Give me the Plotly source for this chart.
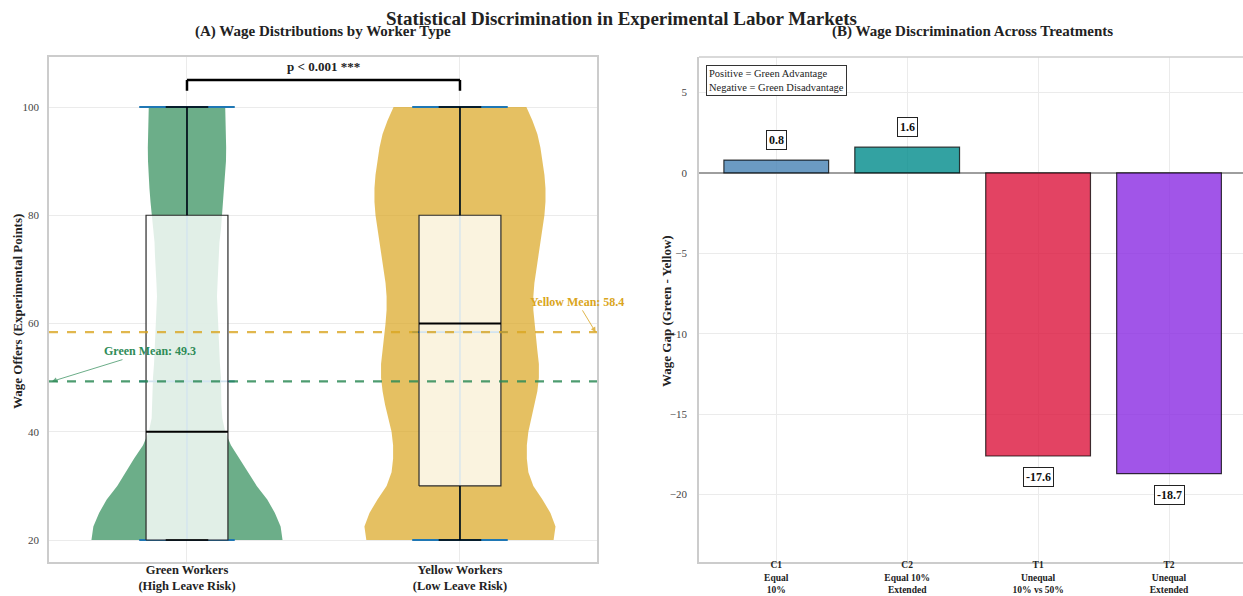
import plotly.graph_objects as go

# ---------------- data ----------------
worker_labels = ["Green Workers<br>(High Leave Risk)", "Yellow Workers<br>(Low Leave Risk)"]
worker_pos = [0, 1]

# violin outline: wage level -> relative density (1 = widest point)
violin_levels = [20, 22.5, 25, 27.5, 30, 32.5, 35, 37.5, 40, 42.5, 45, 47.5, 50, 52.5, 55, 57.5,
                 60, 62.5, 65, 67.5, 70, 72.5, 75, 77.5, 80, 82.5, 85, 87.5, 90, 92.5, 95, 97.5, 100]
green_density = [1.00, 0.98, 0.92, 0.84, 0.73, 0.64, 0.555, 0.46, 0.40, 0.37, 0.36, 0.36, 0.356,
                 0.345, 0.34, 0.33, 0.325, 0.32, 0.314, 0.32, 0.325, 0.335, 0.34, 0.356, 0.366,
                 0.382, 0.393, 0.403, 0.408, 0.41, 0.408, 0.405, 0.40]
yellow_density = [0.98, 1.00, 0.947, 0.863, 0.768, 0.716, 0.70, 0.70, 0.716, 0.747, 0.784, 0.81,
                  0.826, 0.826, 0.81, 0.795, 0.779, 0.768, 0.768, 0.779, 0.80, 0.821, 0.842,
                  0.863, 0.884, 0.895, 0.895, 0.884, 0.863, 0.842, 0.81, 0.758, 0.695]

box_min = [20, 20]
box_q1 = [20, 30]
box_median = [40, 60]
box_q3 = [80, 80]
box_max = [100, 100]
worker_means = [49.3, 58.4]

treatments = ["C1<br>Equal<br>10%", "C2<br>Equal 10%<br>Extended",
              "T1<br>Unequal<br>10% vs 50%", "T2<br>Unequal<br>Extended"]
wage_gap = [0.8, 1.6, -17.6, -18.7]
gap_labels = ["0.8", "1.6", "-17.6", "-18.7"]

p_text = "p < 0.001 ***"

# ---------------- styles ----------------
FONT = "Liberation Serif"
violin_fills = ["rgba(46,139,87,0.7)", "rgba(218,165,32,0.7)"]
mean_colors = ["rgba(46,139,87,0.85)", "rgba(218,165,32,0.8)"]
bar_colors = ["rgba(70,130,180,0.8)", "rgba(0,139,139,0.8)",
              "rgba(220,20,60,0.8)", "rgba(138,43,226,0.8)"]
mpl_blue = "#1f77b4"
grid_c = "#EBEBEB"
frame_c = "#CCCCCC"
VIOLIN_HALF = 0.35
BOX_HALF = 0.15
CAP_HALF = 0.078
BAR_HALF = 0.175

fig = go.Figure()


def line_trace(xs, ys, color, width, dash=None):
    return go.Scatter(x=xs, y=ys, mode="lines", line=dict(color=color, width=width, dash=dash),
                      showlegend=False, hoverinfo="skip", xaxis="x", yaxis="y")


for i, dens in enumerate([green_density, yellow_density]):
    c = worker_pos[i]
    hw = [VIOLIN_HALF * d for d in dens]
    xs = [c + h for h in hw] + [c - h for h in reversed(hw)]
    ys = list(violin_levels) + list(reversed(violin_levels))
    fig.add_trace(go.Scatter(x=xs, y=ys, fill="toself", fillcolor=violin_fills[i],
                             mode="lines", line=dict(width=0),
                             hoverinfo="skip", showlegend=False, xaxis="x", yaxis="y"))
    # violin centre bar, extrema and mean bars (matplotlib blue)
    fig.add_trace(line_trace([c, c], [box_min[i], box_max[i]], mpl_blue, 1.2))
    for yv in [box_min[i], box_max[i], worker_means[i]]:
        fig.add_trace(line_trace([c - BAR_HALF, c + BAR_HALF], [yv, yv], mpl_blue, 1.8))

    # box (drawn with scatter so it sits above the violin)
    bx = [c - BOX_HALF, c + BOX_HALF, c + BOX_HALF, c - BOX_HALF, c - BOX_HALF]
    by = [box_q1[i], box_q1[i], box_q3[i], box_q3[i], box_q1[i]]
    fig.add_trace(go.Scatter(x=bx, y=by, fill="toself", fillcolor="rgba(255,255,255,0.8)",
                             mode="lines", line=dict(color="#2a2a2a", width=1.2),
                             hoverinfo="skip", showlegend=False, xaxis="x", yaxis="y"))
    if box_q1[i] > box_min[i]:
        fig.add_trace(line_trace([c, c], [box_min[i], box_q1[i]], "black", 1.5))
    if box_max[i] > box_q3[i]:
        fig.add_trace(line_trace([c, c], [box_q3[i], box_max[i]], "black", 1.5))
    for yv in [box_min[i], box_max[i]]:
        fig.add_trace(line_trace([c - CAP_HALF, c + CAP_HALF], [yv, yv], "black", 1.5))
    fig.add_trace(line_trace([c - BOX_HALF, c + BOX_HALF], [box_median[i], box_median[i]], "black", 2.2))

# bars
fig.add_trace(go.Bar(x=list(range(len(treatments))), y=wage_gap, width=0.8,
                     marker=dict(color=bar_colors, line=dict(color="rgba(0,0,0,0.75)", width=1.2)),
                     showlegend=False, hoverinfo="skip", xaxis="x2", yaxis="y2"))

shapes = []
for i in range(2):
    shapes.append(dict(type="line", xref="x domain", yref="y", x0=0, x1=1,
                       y0=worker_means[i], y1=worker_means[i],
                       line=dict(color=mean_colors[i], width=2.2, dash="dash")))
br_y, br_leg = 105, 103
shapes.append(dict(type="line", xref="x", yref="y", x0=worker_pos[0], x1=worker_pos[1],
                   y0=br_y, y1=br_y, line=dict(color="black", width=2.5)))
for c in worker_pos:
    shapes.append(dict(type="line", xref="x", yref="y", x0=c, x1=c, y0=br_leg, y1=br_y,
                       line=dict(color="black", width=2.5)))
# top frame line of panel B (its right side lies beyond the picture)
shapes.append(dict(type="line", xref="x2 domain", yref="y2 domain", x0=0, x1=1, y0=1, y1=1,
                   line=dict(color=frame_c, width=1.5)))

annotations = []
annotations.append(dict(text="<b>Statistical Discrimination in Experimental Labor Markets</b>",
                        xref="paper", yref="paper", x=621 / 1243, y=1 - 18 / 596, showarrow=False,
                        font=dict(family=FONT, size=19, color="#222"), xanchor="center", yanchor="middle"))
annotations.append(dict(text="<b>(A) Wage Distributions by Worker Type</b>",
                        xref="paper", yref="paper", x=323 / 1243, y=1 - 31 / 596, showarrow=False,
                        font=dict(family=FONT, size=15, color="#222"), xanchor="center", yanchor="middle"))
annotations.append(dict(text="<b>(B) Wage Discrimination Across Treatments</b>",
                        xref="paper", yref="paper", x=972 / 1243, y=1 - 31 / 596, showarrow=False,
                        font=dict(family=FONT, size=15, color="#222"), xanchor="center", yanchor="middle"))
annotations.append(dict(text="<b>Wage Offers (Experimental Points)</b>", textangle=-90,
                        xref="paper", yref="paper", x=17 / 1243, y=1 - 312 / 596, showarrow=False,
                        font=dict(family=FONT, size=13, color="#222"), xanchor="center", yanchor="middle"))
annotations.append(dict(text="<b>Wage Gap (Green - Yellow)</b>", textangle=-90,
                        xref="paper", yref="paper", x=666 / 1243, y=1 - 311 / 596, showarrow=False,
                        font=dict(family=FONT, size=13, color="#222"), xanchor="center", yanchor="middle"))
annotations.append(dict(text="<b>" + p_text + "</b>", xref="x", yref="y",
                        x=(worker_pos[0] + worker_pos[1]) / 2, y=107.4, showarrow=False,
                        font=dict(family=FONT, size=13, color="#222"), xanchor="center", yanchor="middle"))
annotations.append(dict(text="<b>Green Mean: %.1f</b>" % worker_means[0], xref="x", yref="y",
                        x=-0.495, y=worker_means[0], axref="x", ayref="y", ax=-0.1355, ay=54.9,
                        showarrow=True, arrowhead=2, arrowsize=1, arrowwidth=1,
                        arrowcolor="rgba(46,139,87,0.7)",
                        font=dict(family=FONT, size=12, color="#2E8B57")))
annotations.append(dict(text="<b>Yellow Mean: %.1f</b>" % worker_means[1], xref="x", yref="y",
                        x=1.497, y=worker_means[1], axref="x", ayref="y", ax=1.43, ay=64.0,
                        showarrow=True, arrowhead=2, arrowsize=1, arrowwidth=1,
                        arrowcolor="rgba(218,165,32,0.8)",
                        font=dict(family=FONT, size=12, color="#DAA520")))
for i, v in enumerate(wage_gap):
    off = 1.25 if v >= 0 else -1.3
    annotations.append(dict(text="<b>" + gap_labels[i] + "</b>", xref="x2", yref="y2",
                            x=i, y=v + off, showarrow=False, bgcolor="white",
                            bordercolor="#222", borderwidth=1, borderpad=2,
                            font=dict(family=FONT, size=12, color="#111"),
                            xanchor="center", yanchor="middle"))
annotations.append(dict(text="Positive = Green Advantage<br>Negative = Green Disadvantage",
                        xref="x2 domain", yref="y2 domain", x=0.013, y=0.984,
                        xanchor="left", yanchor="top", align="left", showarrow=False,
                        bgcolor="white", bordercolor="#333", borderwidth=1, borderpad=2,
                        font=dict(family=FONT, size=10.5, color="#222")))

axis_common = dict(showgrid=True, gridcolor=grid_c, gridwidth=1, zeroline=False,
                   showline=True, linecolor=frame_c, linewidth=1.5, automargin=False,
                   tickfont=dict(family=FONT, size=11, color="#444"))

fig.update_layout(
    width=1243, height=596, autosize=False,
    margin=dict(l=0, r=0, t=0, b=0, pad=0),
    paper_bgcolor="white", plot_bgcolor="white",
    showlegend=False,
    font=dict(family=FONT, color="#222"),
    xaxis=dict(axis_common, domain=[49 / 1243, 597 / 1243], range=[-0.5055, 1.502],
               tickvals=worker_pos, ticktext=["<b>%s</b>" % t for t in worker_labels],
               tickfont=dict(family=FONT, size=12.5, color="#222"), mirror=True,
               ticks="", ticklabelstandoff=-5, anchor="y"),
    yaxis=dict(axis_common, domain=[1 - 562 / 596, 1 - 57 / 596], range=[15.94, 109.24],
               tickvals=[20, 40, 60, 80, 100], mirror=True,
               ticks="outside", ticklen=6, tickcolor="rgba(0,0,0,0)", anchor="x"),
    xaxis2=dict(axis_common, domain=[699 / 1243, 1.0], range=[-0.59, 3.565],
                tickvals=list(range(len(treatments))), ticktext=["<b>%s</b>" % t for t in treatments],
                tickfont=dict(family=FONT, size=9.5, color="#222"), mirror=False,
                ticks="", ticklabelstandoff=-7, anchor="y2"),
    yaxis2=dict(axis_common, domain=[1 - 562 / 596, 1 - 57 / 596], range=[-24.19, 7.21],
                tickvals=[5, 0, -5, -10, -15, -20], mirror=False,
                zeroline=True, zerolinecolor="#9E9E9E", zerolinewidth=1.5,
                ticks="outside", ticklen=8, tickcolor="rgba(0,0,0,0)", anchor="x2"),
    shapes=shapes,
    annotations=annotations,
)

fig.write_html("out.html", config={"displayModeBar": False},
               post_script="document.body.style.margin='0';document.body.style.overflow='hidden';")
